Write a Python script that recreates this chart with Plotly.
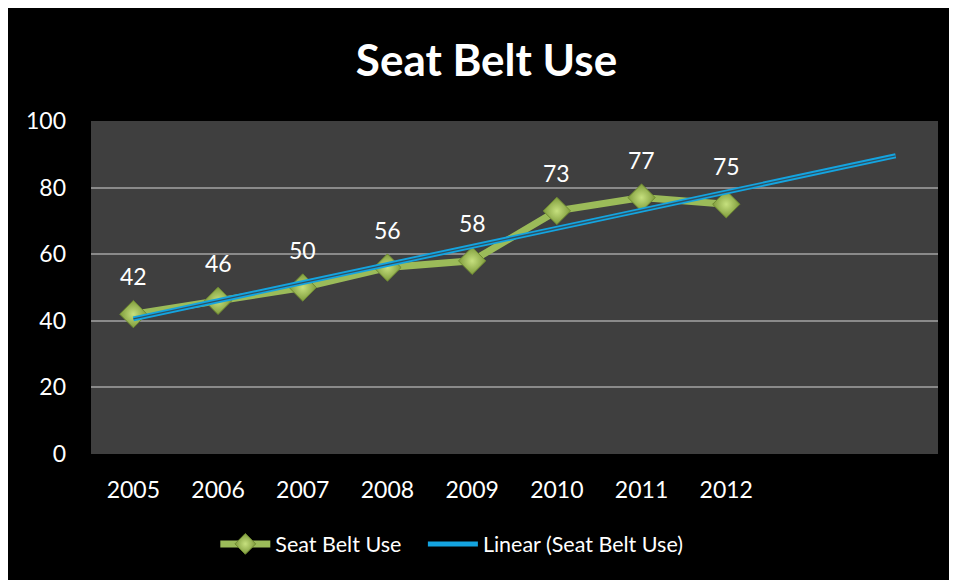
import numpy as np
import plotly.graph_objects as go

years = ["2005", "2006", "2007", "2008", "2009", "2010", "2011", "2012"]
seat_belt_use = [42, 46, 50, 56, 58, 73, 77, 75]
y_ticks = [0, 20, 40, 60, 80, 100]

x_idx = list(range(len(years)))
# linear trendline (least-squares fit of the data), forecast 2 periods forward
slope, intercept = np.polyfit(x_idx, seat_belt_use, 1)
trend_x = [0, len(years) + 1]
trend_y = [intercept + slope * t for t in trend_x]

FONT = "Lato"
fig = go.Figure()

fig.add_trace(go.Scatter(
    x=x_idx, y=seat_belt_use, mode="lines+markers",
    name="Seat Belt Use" + "\u00a0" * 3,
    line=dict(color="#9BBB59", width=7),
    marker=dict(symbol="diamond", size=21, color="#7f9c3c",
                gradient=dict(type="radial", color="#c6e07e"),
                line=dict(color="#6f8a32", width=1)),
))
fig.add_trace(go.Scatter(
    x=trend_x, y=trend_y, mode="lines", name="Linear (Seat Belt Use)",
    line=dict(color="#14A4E0", width=5),
))
fig.add_trace(go.Scatter(
    x=trend_x, y=trend_y, mode="lines", showlegend=False, hoverinfo="skip",
    line=dict(color="#2f5262", width=1.3),
))

for xi, v in zip(x_idx, seat_belt_use):
    fig.add_annotation(x=xi, y=v, text=str(v), showarrow=False, yshift=38,
                       font=dict(family=FONT, size=23, color="white"))

fig.update_layout(
    width=957, height=580,
    margin=dict(l=83, r=27, t=113, b=134),
    paper_bgcolor="black", plot_bgcolor="#3f3f3f",
    title=dict(text="<b>Seat Belt Use</b>", x=0.5, xanchor="center", y=0.91, yanchor="middle",
               font=dict(family=FONT, size=44, color="white")),
    xaxis=dict(range=[-0.5, 9.5], tickvals=x_idx, ticktext=years, showgrid=False,
               zeroline=False, showline=False,
               tickfont=dict(family=FONT, size=23, color="white"), ticklabelstandoff=20),
    yaxis=dict(range=[0, 100], tickvals=y_ticks, showgrid=True, gridcolor="#8a8a8a",
               gridwidth=2, zeroline=False, showline=False,
               tickfont=dict(family=FONT, size=23, color="white"), ticklabelstandoff=24),
    legend=dict(orientation="h", x=0.426, xanchor="center", y=-0.27, yanchor="middle",
                font=dict(family=FONT, size=21.5, color="white"), bgcolor="rgba(0,0,0,0)",
                itemwidth=50),
    showlegend=True,
)

fig.write_html("out.html")
